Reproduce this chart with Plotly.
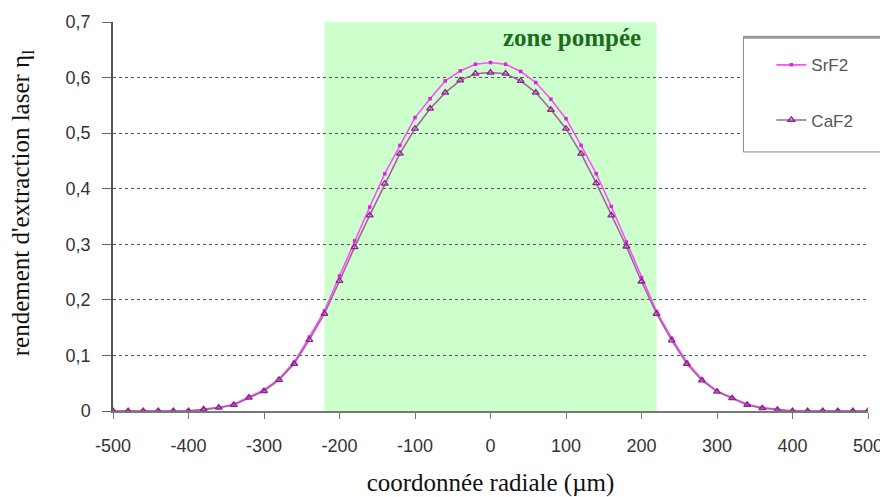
import plotly.graph_objects as go

x_um = [-500, -480, -460, -440, -420, -400, -380, -360, -340, -320, -300, -280, -260, -240, -220, -200,
        -180, -160, -140, -120, -100, -80, -60, -40, -20, 0, 20, 40, 60, 80, 100, 120, 140, 160, 180,
        200, 220, 240, 260, 280, 300, 320, 340, 360, 380, 400, 420, 440, 460, 480, 500]

srf2 = [0, 0, 0, 0, 0, 0, 0.003, 0.006, 0.012, 0.025, 0.038, 0.058, 0.088, 0.133, 0.180, 0.243,
        0.306, 0.367, 0.427, 0.478, 0.528, 0.562, 0.594, 0.612, 0.624, 0.627, 0.624, 0.611, 0.591, 0.561,
        0.526, 0.478, 0.427, 0.368, 0.304, 0.240, 0.179, 0.131, 0.088, 0.057, 0.036, 0.024, 0.012,
        0.006, 0.003, 0, 0, 0, 0, 0, 0]

caf2 = [0, 0, 0, 0, 0, 0, 0.003, 0.006, 0.011, 0.024, 0.036, 0.056, 0.085, 0.128, 0.175, 0.234,
        0.295, 0.352, 0.409, 0.463, 0.508, 0.544, 0.573, 0.595, 0.607, 0.609, 0.607, 0.594, 0.573, 0.542,
        0.508, 0.463, 0.410, 0.352, 0.296, 0.233, 0.175, 0.127, 0.085, 0.055, 0.035, 0.023, 0.011,
        0.005, 0.002, 0, 0, 0, 0, 0, 0]

zone = [-220, 220]
x_ticks = [-500, -400, -300, -200, -100, 0, 100, 200, 300, 400, 500]
x_tick_labels = ["-500", "-400", "-300", "-200", "-100", "0", "100", "200", "300", "400", "500"]
y_ticks = [0, 0.1, 0.2, 0.3, 0.4, 0.5, 0.6, 0.7]
y_tick_labels = ["0", "0,1", "0,2", "0,3", "0,4", "0,5", "0,6", "0,7"]

fig = go.Figure()

fig.add_shape(type="rect", xref="x", yref="y", x0=zone[0], x1=zone[1], y0=0, y1=0.7,
              fillcolor="#CCFFCC", line_width=0, layer="below")

fig.add_trace(go.Scatter(x=x_um, y=srf2, name="SrF2", mode="lines+markers", legendgroup="a",
                         line=dict(color="#FF4DFF", width=1.6),
                         marker=dict(symbol="square", size=3.5, color="#E020E0")))
fig.add_trace(go.Scatter(x=x_um, y=caf2, name="CaF2", mode="lines+markers", legendgroup="b",
                         line=dict(color="#A860A8", width=1.6),
                         marker=dict(symbol="triangle-up-open", size=6, color="#902090",
                                     line=dict(width=1.3, color="#902090"))))

fig.add_annotation(x=108, y=0.672, xref="x", yref="y", text="<b>zone pompée</b>", showarrow=False,
                   font=dict(family="Liberation Serif, Times New Roman, serif", size=25, color="#1E6B1E"))

fig.add_annotation(x=-0.12, y=0.535, xref="paper", yref="paper", xanchor="center", yanchor="middle",
                   text="rendement d'extraction laser η<sub>l</sub>", textangle=-90, showarrow=False,
                   font=dict(family="Liberation Serif, Times New Roman, serif", size=25, color="#111"))

# legend box
fig.add_shape(type="rect", xref="paper", yref="paper", x0=0.835, x1=1.03, y0=0.666, y1=0.962,
              fillcolor="white", line=dict(color="#888", width=1), layer="above")
fig.add_shape(type="line", xref="paper", yref="paper", x0=0.835, x1=1.03, y0=0.961, y1=0.961,
              line=dict(color="#999", width=3), layer="above")

fig.update_layout(
    width=880, height=489,
    margin=dict(l=105, r=20, t=14, b=86),
    plot_bgcolor="white", paper_bgcolor="white",
    showlegend=True,
    legend=dict(x=0.872, y=0.935, xanchor="left", yanchor="top", bgcolor="rgba(0,0,0,0)",
                borderwidth=0, tracegroupgap=30, traceorder="grouped",
                font=dict(family="Liberation Sans, Arial, sans-serif", size=17, color="#555")),
    xaxis=dict(range=[-500, 500], tickvals=x_ticks, ticktext=x_tick_labels, showgrid=False,
               zeroline=False, automargin=False,
               showline=True, linecolor="#777", linewidth=2, ticks="outside", ticklen=6,
               tickcolor="#777", ticklabelstandoff=11,
               tickfont=dict(family="Liberation Sans, Arial, sans-serif", size=18, color="#333"),
               title=dict(text="coordonnée radiale (µm)", standoff=19,
                          font=dict(family="Liberation Serif, Times New Roman, serif", size=25, color="#111"))),
    yaxis=dict(range=[0, 0.7], tickvals=y_ticks, ticktext=y_tick_labels, showgrid=True, gridcolor="#555",
               griddash="3px,3px", gridwidth=1, zeroline=False, automargin=False,
               showline=True, linecolor="#555", linewidth=1.5, ticks="outside", ticklen=9,
               tickcolor="#666", ticklabelstandoff=8,
               tickfont=dict(family="Liberation Sans, Arial, sans-serif", size=18, color="#333")),
)

fig.write_html("out.html")
